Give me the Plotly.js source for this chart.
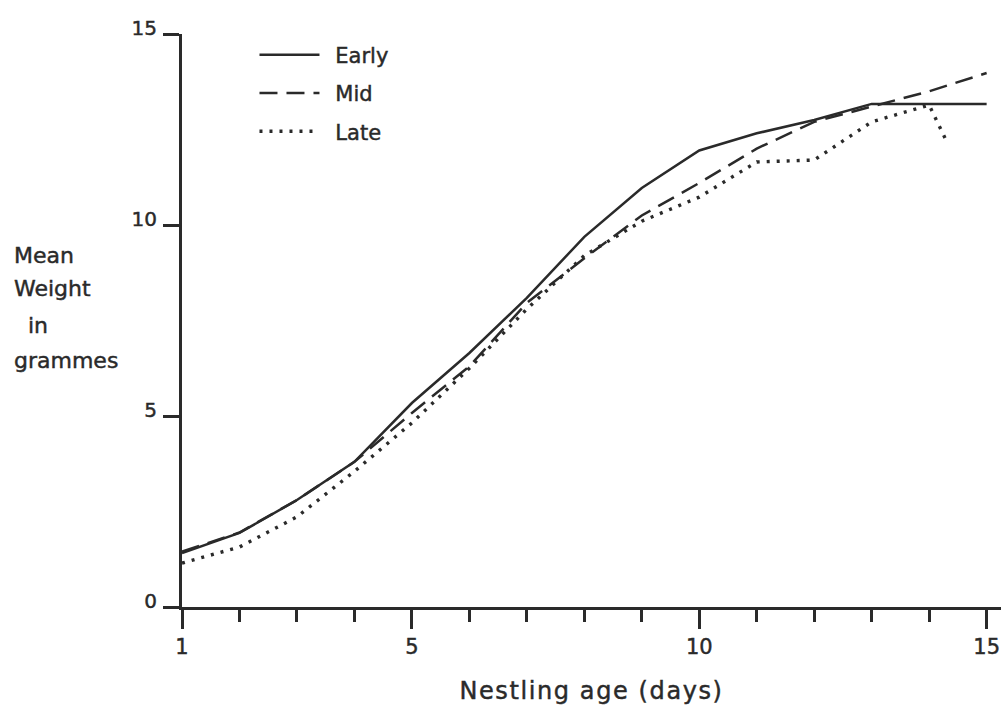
<!DOCTYPE html>
<html>
<head>
<meta charset="utf-8">
<script src="https://cdn.plot.ly/plotly-3.0.1.min.js"></script>
<style>
  html, body { margin: 0; padding: 0; background: #ffffff; }
  #chart { width: 1006px; height: 715px; }
  #chart svg text { stroke: #2a2a2a; stroke-width: 0.45px; }
  #chart svg .xtitle { letter-spacing: 1.6px; }
</style>
</head>
<body>
<div id="chart"></div>
<script>
// Nestling age (days)
const days = [1, 2, 3, 4, 5, 6, 7, 8, 9, 10, 11, 12, 13, 14, 15];
const lateDays = [1, 2, 3, 4, 5, 6, 7, 8, 9, 10, 11, 12, 13, 14, 14.3];

// Mean weight in grammes
const early = [1.41, 1.94, 2.8, 3.8, 5.34, 6.65, 8.09, 9.69, 10.97, 11.95, 12.4, 12.75, 13.17, 13.17, 13.17];
const mid   = [1.45, 1.95, 2.8, 3.8, 5.08, 6.3, 7.96, 9.13, 10.25, 11.1, 12.0, 12.7, 13.1, 13.5, 13.98];
const late  = [1.15, 1.57, 2.36, 3.55, 4.82, 6.25, 7.8, 9.2, 10.1, 10.73, 11.65, 11.7, 12.7, 13.14, 12.2];

const seriesNames = ['Early', 'Mid', 'Late'];
const xTickVals = [1, 5, 10, 15];
const yTickVals = [0, 5, 10, 15];

const ink = '#2a2a2a';
const FONT = 'DejaVu Sans, Liberation Sans, sans-serif';
const pad = '\u00a0\u2009';

const traces = [
  { x: days, y: early, name: pad + seriesNames[0], legendgroup: 'a', mode: 'lines',
    line: { color: ink, width: 2.5, dash: 'solid' } },
  { x: days, y: mid, name: pad + seriesNames[1], legendgroup: 'b', mode: 'lines',
    line: { color: ink, width: 2.5, dash: '18px,9px' } },
  { x: lateDays, y: late, name: pad + seriesNames[2], legendgroup: 'c', mode: 'lines',
    line: { color: ink, width: 3.4, dash: '3px,7px' } }
];

const yTitleLines = ['Mean', 'Weight', '\u00a0\u00a0in', 'grammes'];
const yTitleY = [0.613, 0.555, 0.492, 0.430];

const layout = {
  width: 1006,
  height: 715,
  paper_bgcolor: '#ffffff',
  plot_bgcolor: '#ffffff',
  margin: { l: 182, r: 5, t: 34, b: 108, autoexpand: false },
  font: { family: FONT, size: 20, color: ink },
  showlegend: true,
  legend: {
    xref: 'paper', yref: 'paper',
    x: 0.0885, y: 0.999, xanchor: 'left', yanchor: 'top',
    bgcolor: 'rgba(0,0,0,0)', borderwidth: 0,
    font: { family: FONT, size: 21, color: ink },
    tracegroupgap: 8, itemwidth: 60
  },
  xaxis: {
    automargin: false,
    range: [1, 15.25],
    tickmode: 'array', tickvals: xTickVals, ticktext: xTickVals.map(String),
    ticks: 'outside', ticklen: 19, tickwidth: 3, tickcolor: ink,
    minor: { tickmode: 'linear', tick0: 1, dtick: 1, ticks: 'outside', ticklen: 12, tickwidth: 3, tickcolor: ink, showgrid: false },
    showline: true, linewidth: 3, linecolor: ink,
    showgrid: false, zeroline: false,
    tickfont: { family: FONT, size: 21, color: ink },
    ticklabelstandoff: 0,
    title: { text: 'Nestling age (days)', font: { family: FONT, size: 24, color: ink }, standoff: 24 },
    fixedrange: true
  },
  yaxis: {
    automargin: false,
    range: [0, 15],
    tickmode: 'array', tickvals: yTickVals, ticktext: yTickVals.map(String),
    ticks: 'outside', ticklen: 16, tickwidth: 3, tickcolor: ink,
    showline: true, linewidth: 3, linecolor: ink,
    showgrid: false, zeroline: false,
    tickfont: { family: FONT, size: 20, color: ink },
    ticklabelshift: -6, ticklabelstandoff: 2,
    fixedrange: true
  },
  annotations: yTitleLines.map((t, i) => ({
    text: t, xref: 'paper', yref: 'paper',
    x: -0.208, y: yTitleY[i], xanchor: 'left', yanchor: 'middle',
    showarrow: false, font: { family: FONT, size: 22, color: ink }
  }))
};

Plotly.newPlot('chart', traces, layout, { displayModeBar: false, staticPlot: true });
</script>
</body>
</html>
